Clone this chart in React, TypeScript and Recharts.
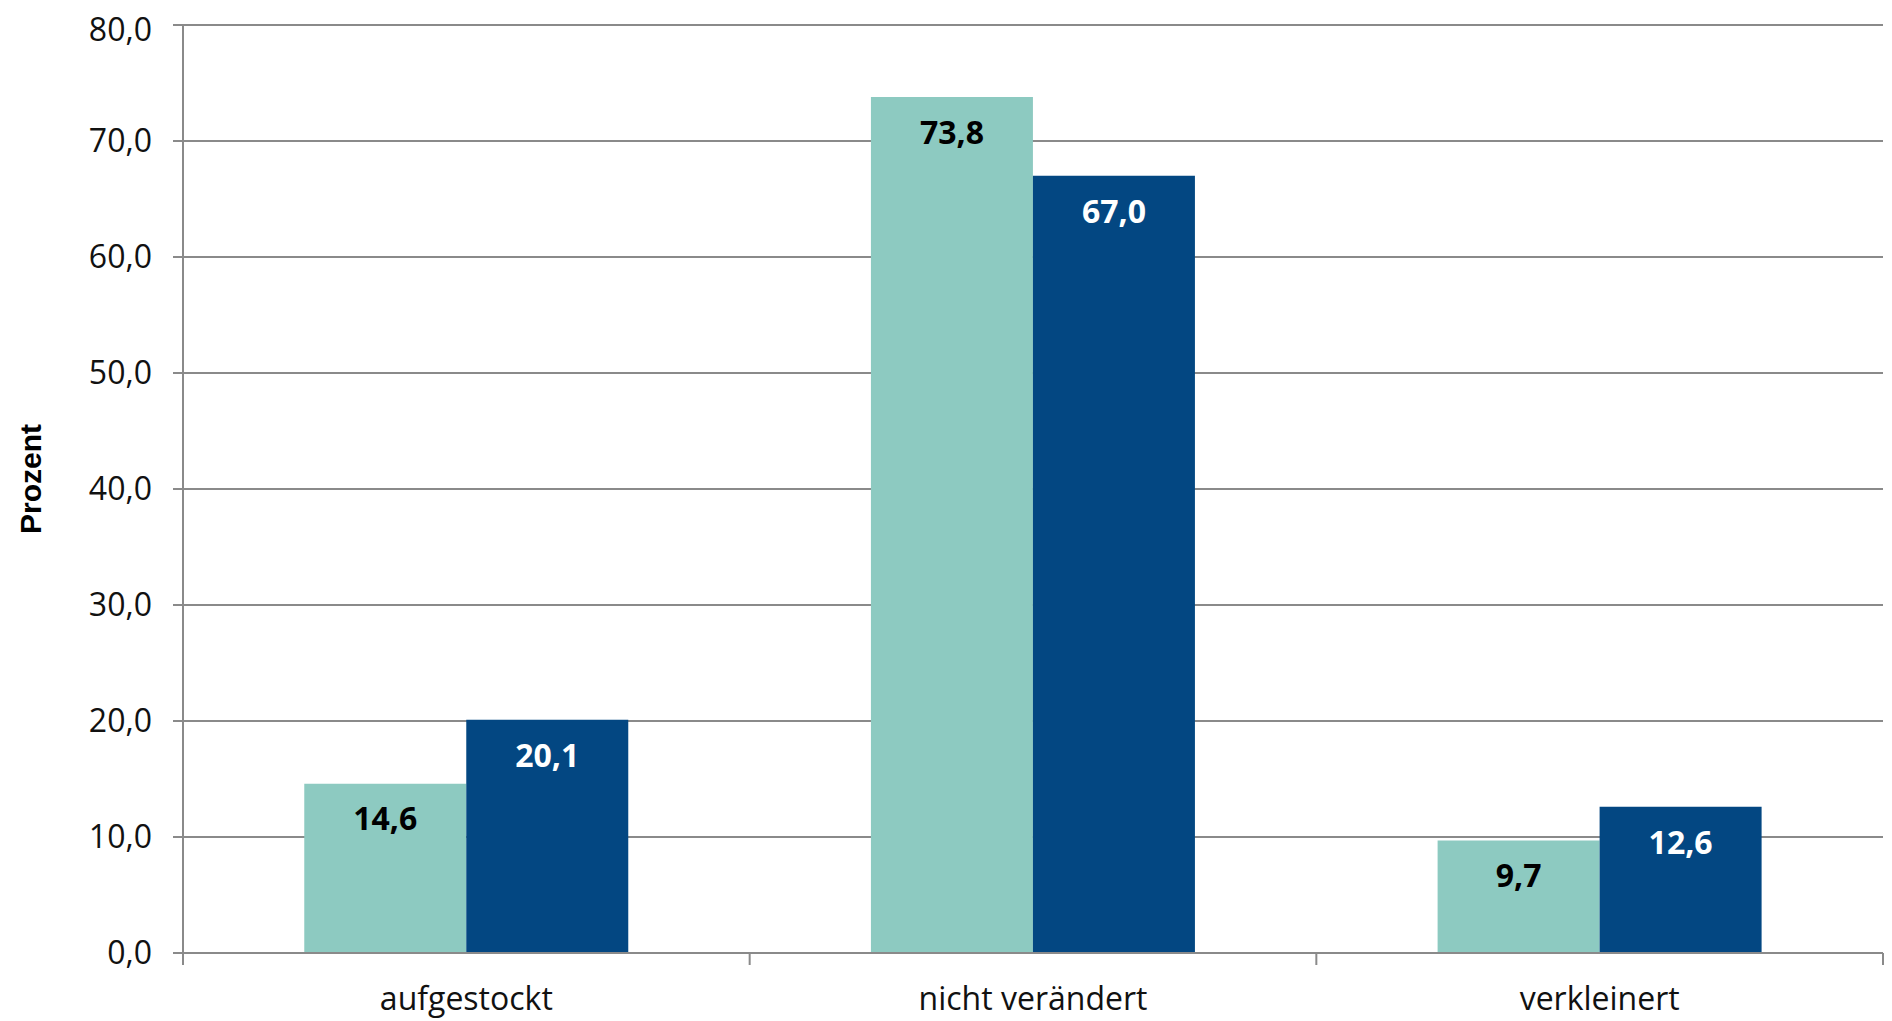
import { BarChart, Bar, XAxis, YAxis, CartesianGrid, LabelList } from "recharts"

const categories = ["aufgestockt", "nicht verändert", "verkleinert"]
const seriesA = [14.6, 73.8, 9.7]
const seriesB = [20.1, 67.0, 12.6]
const yTicks = [0, 10, 20, 30, 40, 50, 60, 70, 80]

const data = categories.map((c, i) => ({ name: c, a: seriesA[i], b: seriesB[i] }))

const fmt = (v: number) => v.toFixed(1).replace(".", ",")
const GRID = "#8a8a8a"
const FONT = "'Open Sans', sans-serif"

function CategoryTick(props: any) {
  const { x, y, payload, width, index, visibleTicksCount } = props
  const half = width / categories.length / 2
  return (
    <g>
      <line x1={x - half} x2={x - half} y1={y} y2={y + 12} stroke={GRID} strokeWidth={2} />
      {index === visibleTicksCount - 1 && (
        <line x1={x + half} x2={x + half} y1={y} y2={y + 12} stroke={GRID} strokeWidth={2} />
      )}
      <text x={x} y={y + 57} textAnchor="middle" fill="#111" fontSize={32} fontFamily={FONT}>
        {payload.value}
      </text>
    </g>
  )
}

function AxisTitle(props: any) {
  const { viewBox } = props
  const cx = viewBox.x + 22
  const cy = viewBox.y + viewBox.height / 2 - 10
  return (
    <text
      x={cx}
      y={cy}
      transform={`rotate(-90 ${cx} ${cy})`}
      textAnchor="middle"
      dominantBaseline="central"
      fontSize={30}
      fontWeight="bold"
      fontFamily="'Liberation Sans', Arial, sans-serif"
      fill="#000"
    >
      Prozent
    </text>
  )
}

export default function App() {
  return (
    <BarChart
      width={1884}
      height={1013}
      data={data}
      margin={{ top: 17, right: 9, bottom: 0, left: 0 }}
      barCategoryGap="21.4%"
      barGap={0}
    >
      <CartesianGrid vertical={false} stroke={GRID} strokeWidth={2} />
      <XAxis
        dataKey="name"
        height={68}
        tickLine={false}
        tickSize={0}
        tickMargin={0}
        axisLine={{ stroke: GRID, strokeWidth: 2 }}
        tick={<CategoryTick />}
        interval={0}
      />
      <YAxis
        width={175}
        domain={[0, 80]}
        ticks={yTicks}
        tickFormatter={fmt}
        tickSize={10}
        tickMargin={21}
        tickLine={{ stroke: GRID, strokeWidth: 2 }}
        axisLine={{ stroke: GRID, strokeWidth: 2 }}
        tick={{ fontSize: 32, fill: "#111", fontFamily: FONT }}
        label={<AxisTitle />}
      />
      <Bar dataKey="a" fill="#8dcac1" isAnimationActive={false}>
        <LabelList
          dataKey="a"
          position="insideTop"
          offset={24}
          formatter={(v: any) => fmt(Number(v))}
          style={{ fontSize: 32, fontWeight: 700, fill: "#000", fontFamily: FONT }}
        />
      </Bar>
      <Bar dataKey="b" fill="#034782" isAnimationActive={false}>
        <LabelList
          dataKey="b"
          position="insideTop"
          offset={24}
          formatter={(v: any) => fmt(Number(v))}
          style={{ fontSize: 32, fontWeight: 700, fill: "#fff", fontFamily: FONT }}
        />
      </Bar>
    </BarChart>
  )
}
